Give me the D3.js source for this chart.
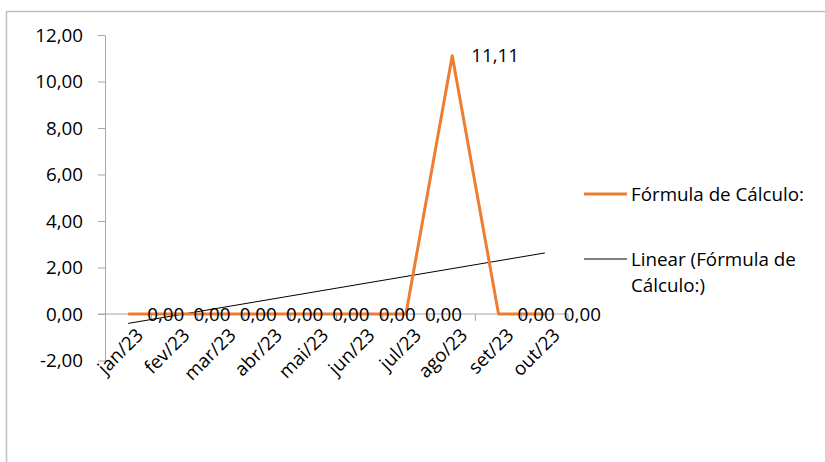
<!DOCTYPE html>
<html>
<head>
<meta charset="utf-8">
<script src="https://cdn.jsdelivr.net/npm/d3@7"></script>
<style>
  html, body { margin: 0; padding: 0; background: #fff; }
  svg { display: block; }
  text { font-family: "Open Sans", "Liberation Sans", sans-serif; fill: #000; }
</style>
</head>
<body>
<script>
// Monthly values of the series
const months = ["jan/23", "fev/23", "mar/23", "abr/23", "mai/23", "jun/23", "jul/23", "ago/23", "set/23", "out/23"];
const values = [0, 0, 0, 0, 0, 0, 0, 11.11, 0, 0];
const yTicks = [-2, 0, 2, 4, 6, 8, 10, 12];
const seriesName = "Fórmula de Cálculo:";
const trendName = ["Linear (Fórmula de", "Cálculo:)"];

const W = 825, H = 462;
const fontSize = 18.8;
const orange = "#ED7D31";
const axisGrey = "#A6A6A6";

const svg = d3.select("body").append("svg").attr("width", W).attr("height", H);

// chart frame
svg.append("rect")
  .attr("x", 6.5).attr("y", 11.5)
  .attr("width", W + 10).attr("height", H + 10)
  .attr("fill", "#fff").attr("stroke", "#BFBFBF").attr("stroke-width", 1.5);

const plot = { left: 105, right: 568, top: 35, bottom: 360.5 };

const x = d3.scaleBand().domain(months).range([plot.left, plot.right]).padding(0);
const y = d3.scaleLinear().domain([-2, 12]).range([plot.bottom, plot.top]);
// decimal comma, plain hyphen for negatives
const fmt = v => d3.format(".2f")(v).replace(".", ",").replace("\u2212", "-");
const cx = m => x(m) + x.bandwidth() / 2;

// y axis
const yAxis = svg.append("g").attr("transform", `translate(${plot.left},0)`)
  .call(d3.axisLeft(y).tickValues(yTicks).tickSize(7).tickSizeOuter(0).tickPadding(15).tickFormat(fmt));
yAxis.select(".domain").attr("stroke", axisGrey);
yAxis.selectAll(".tick line").attr("stroke", axisGrey);
yAxis.selectAll(".tick text").attr("font-size", fontSize).attr("font-family", null);

// x axis at zero, with tick marks between categories
const xAxisG = svg.append("g").attr("transform", `translate(0,${y(0)})`);
xAxisG.append("line")
  .attr("x1", plot.left - 7).attr("x2", plot.right)
  .attr("stroke", axisGrey);
xAxisG.selectAll("line.tk")
  .data(months.slice(1).concat(["__end"]))
  .join("line").attr("class", "tk")
  .attr("x1", (d, i) => plot.left + (i + 1) * x.bandwidth())
  .attr("x2", (d, i) => plot.left + (i + 1) * x.bandwidth())
  .attr("y1", 0).attr("y2", 7)
  .attr("stroke", axisGrey);
xAxisG.selectAll("text.lbl")
  .data(months)
  .join("text").attr("class", "lbl")
  .attr("transform", d => `translate(${cx(d) + 7},${13}) rotate(-45)`)
  .attr("text-anchor", "end")
  .attr("dy", "0.7em")
  .attr("font-size", fontSize)
  .text(d => d);

// linear trend line from least squares fit
const n = values.length;
const xs = d3.range(1, n + 1);
const mx = d3.mean(xs), my = d3.mean(values);
const slope = d3.sum(xs, (xi, i) => (xi - mx) * (values[i] - my)) / d3.sum(xs, xi => (xi - mx) ** 2);
const intercept = my - slope * mx;
svg.append("line")
  .attr("x1", cx(months[0])).attr("y1", y(intercept + slope * 1))
  .attr("x2", cx(months[n - 1])).attr("y2", y(intercept + slope * n))
  .attr("stroke", "#000").attr("stroke-width", 1);

// series line
const line = d3.line().x((d, i) => cx(months[i])).y(d => y(d));
svg.append("path").datum(values)
  .attr("d", line)
  .attr("fill", "none").attr("stroke", orange)
  .attr("stroke-width", 3).attr("stroke-linejoin", "round");

// data labels
svg.selectAll("text.val").data(values).join("text").attr("class", "val")
  .attr("x", (d, i) => cx(months[i]) + 19)
  .attr("y", d => y(d))
  .attr("dy", "0.35em")
  .attr("font-size", fontSize)
  .text(d => fmt(d));

// legend
const lg = svg.append("g");
lg.append("line").attr("x1", 584).attr("x2", 627).attr("y1", 194).attr("y2", 194)
  .attr("stroke", orange).attr("stroke-width", 3);
lg.append("text").attr("x", 631).attr("y", 194).attr("dy", "0.35em")
  .attr("font-size", fontSize).text(seriesName);
lg.append("line").attr("x1", 584).attr("x2", 627).attr("y1", 259).attr("y2", 259)
  .attr("stroke", "#000").attr("stroke-width", 1);
lg.selectAll("text.tr").data(trendName).join("text").attr("class", "tr")
  .attr("x", 631).attr("y", (d, i) => 259 + i * 26).attr("dy", "0.35em")
  .attr("font-size", fontSize).text(d => d);
</script>
</body>
</html>
